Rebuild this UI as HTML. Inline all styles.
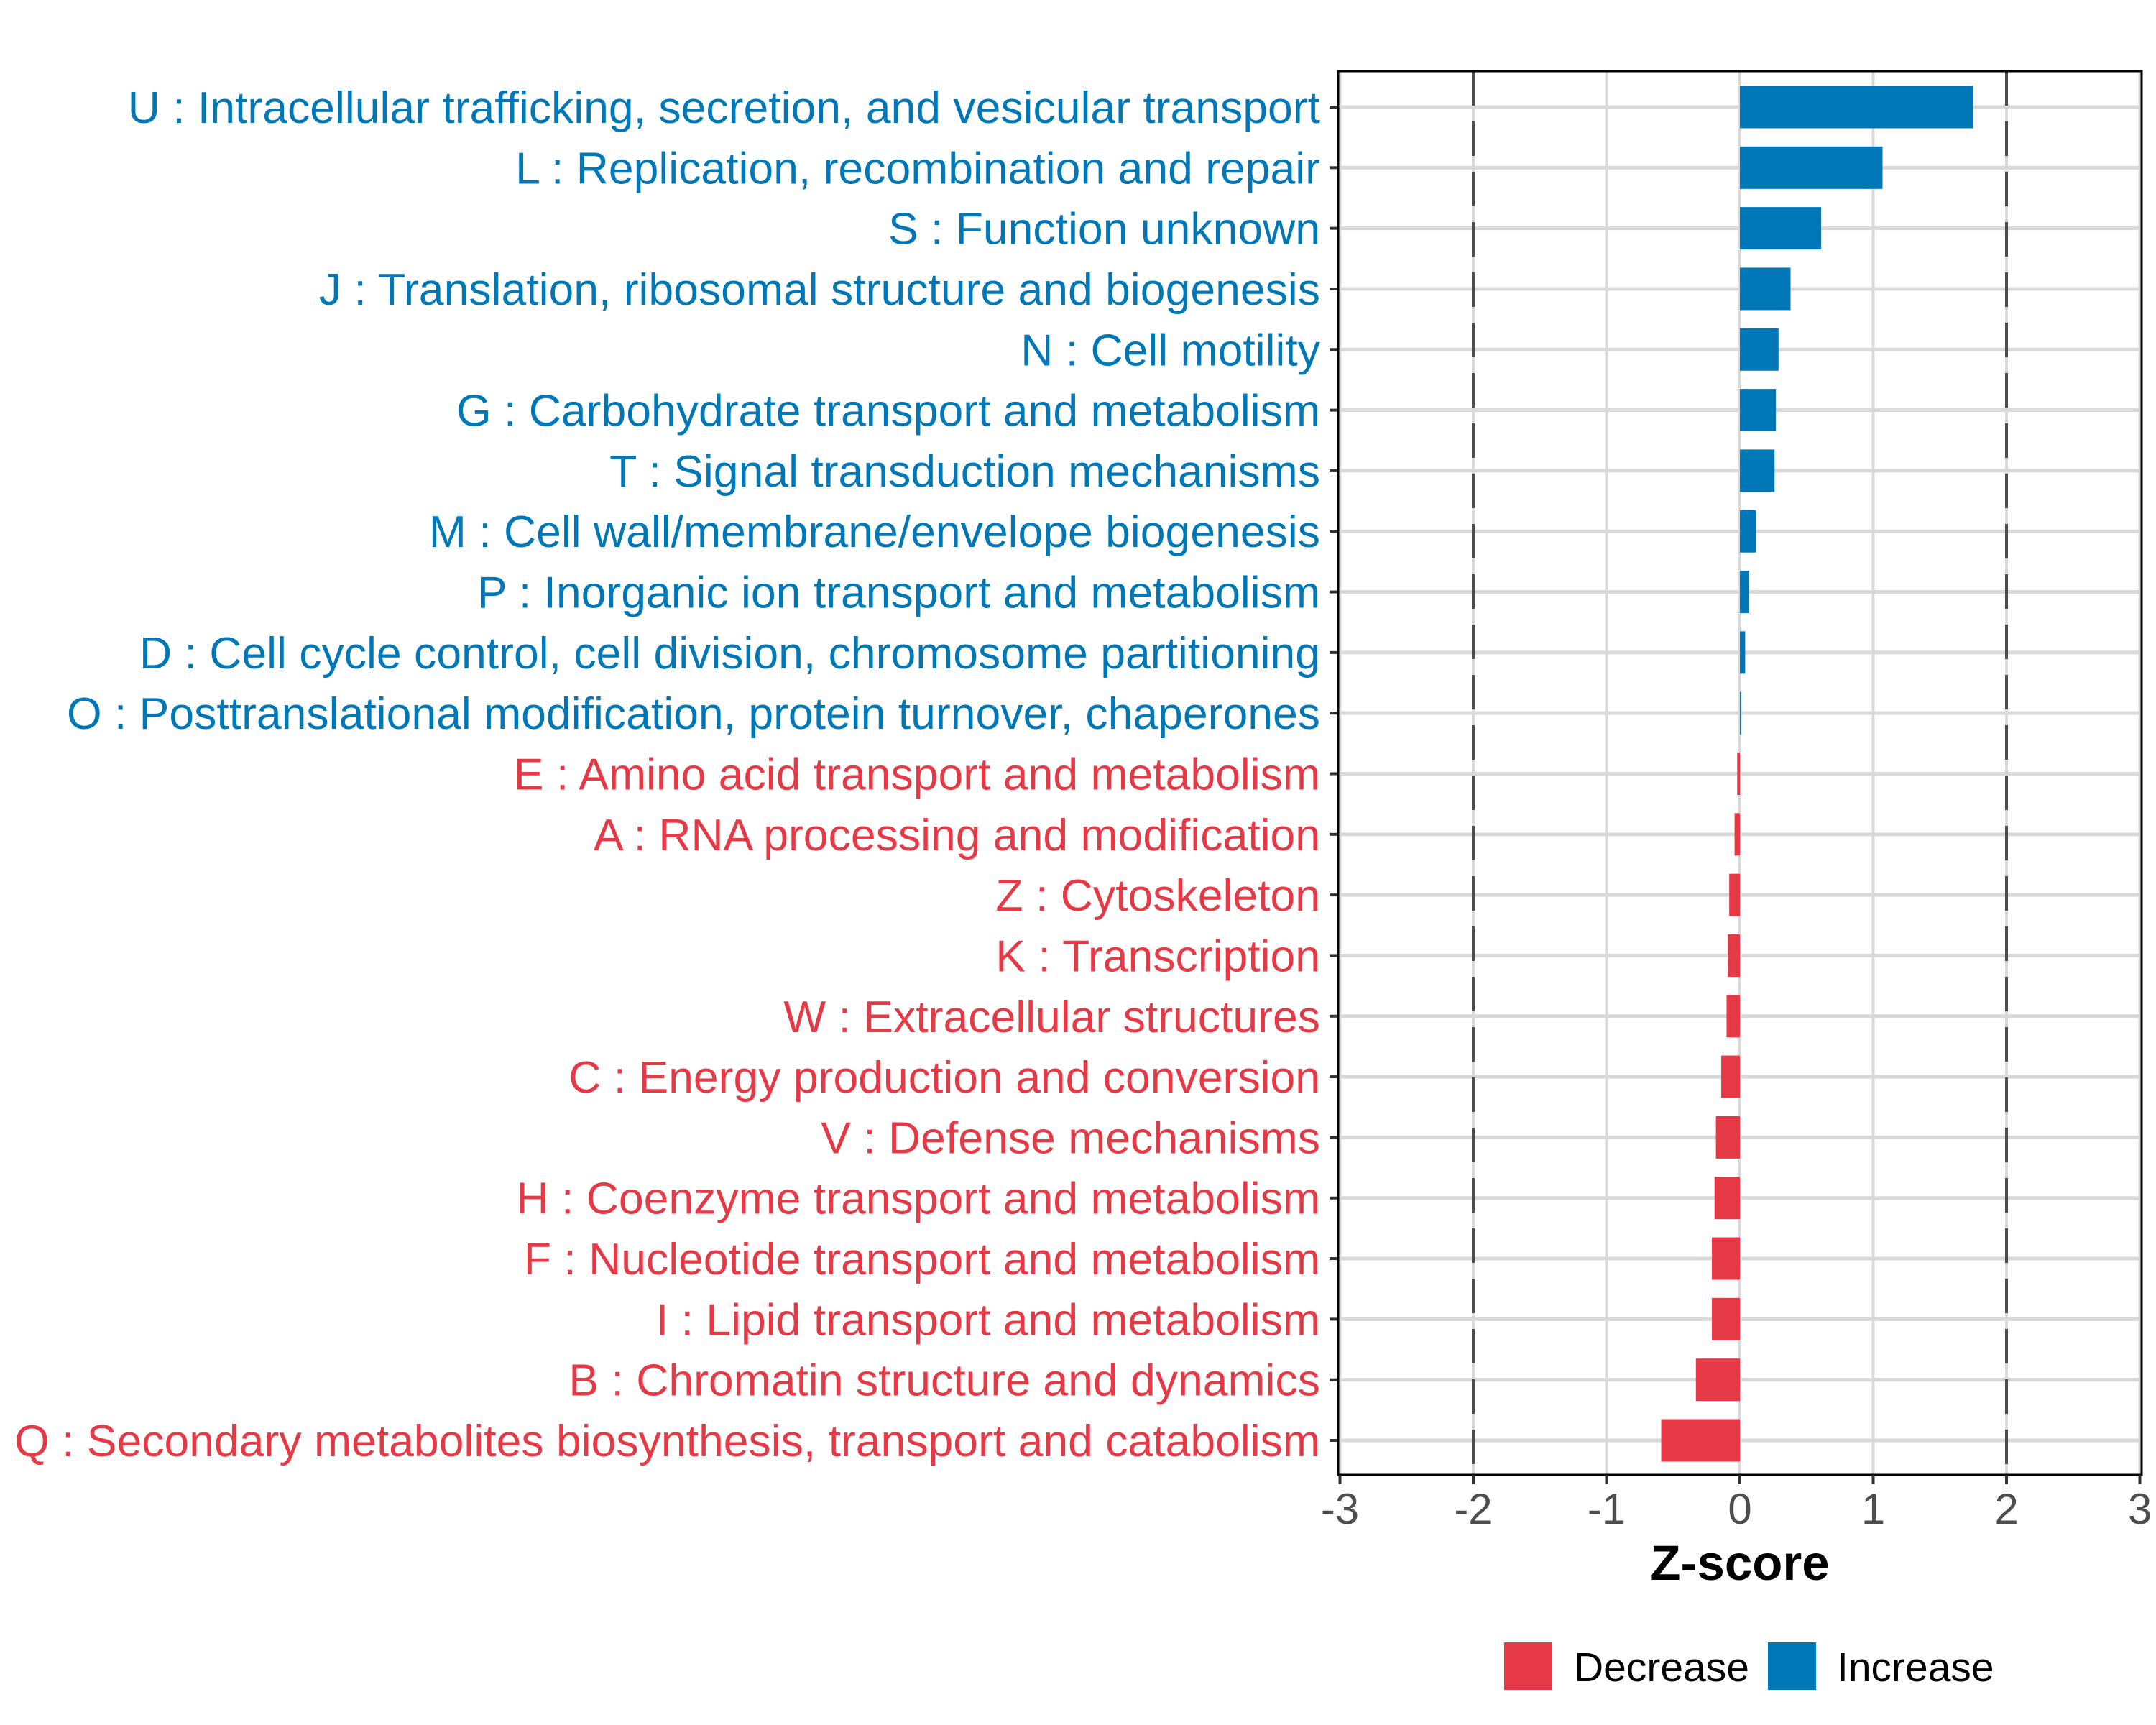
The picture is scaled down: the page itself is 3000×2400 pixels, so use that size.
<!DOCTYPE html>
<html><head><meta charset="utf-8"><style>body{margin:0;background:#fff}svg{display:block}</style></head>
<body>
<svg id="chart" width="3000" height="2400" viewBox="0 0 3000 2400" xmlns="http://www.w3.org/2000/svg" font-family="'Liberation Sans', sans-serif">
<rect width="3000" height="2400" fill="#fff"/>
<g id="grid"></g><g id="bars"></g><g id="axes"></g>
</svg>
<script>
const categories = ["U : Intracellular trafficking, secretion, and vesicular transport","L : Replication, recombination and repair","S : Function unknown","J : Translation, ribosomal structure and biogenesis","N : Cell motility","G : Carbohydrate transport and metabolism","T : Signal transduction mechanisms","M : Cell wall/membrane/envelope biogenesis","P : Inorganic ion transport and metabolism","D : Cell cycle control, cell division, chromosome partitioning","O : Posttranslational modification, protein turnover, chaperones","E : Amino acid transport and metabolism","A : RNA processing and modification","Z : Cytoskeleton","K : Transcription","W : Extracellular structures","C : Energy production and conversion","V : Defense mechanisms","H : Coenzyme transport and metabolism","F : Nucleotide transport and metabolism","I : Lipid transport and metabolism","B : Chromatin structure and dynamics","Q : Secondary metabolites biosynthesis, transport and catabolism"];
const zscores = [1.75,1.07,0.61,0.38,0.29,0.27,0.26,0.12,0.07,0.04,0.01,-0.02,-0.04,-0.08,-0.09,-0.10,-0.14,-0.18,-0.19,-0.21,-0.21,-0.33,-0.59];
const xTicks = [-3,-2,-1,0,1,2,3];
const thresholds = [-2,2];

const NS="http://www.w3.org/2000/svg";
const L=1862,R=2980,T=99,B=2052;
const x=v=>2421+v*185.5;
const y=i=>149+i*((2004-149)/(categories.length-1));
const BLUE="#0078b8",RED="#e63946";
function mk(p,tag,a){const e=document.createElementNS(NS,tag);for(const k in a)e.setAttribute(k,a[k]);p.appendChild(e);return e;}
const grid=document.getElementById('grid'),bars=document.getElementById('bars'),axes=document.getElementById('axes');

xTicks.forEach(t=>{const l=mk(grid,'line',{x1:x(t),x2:x(t),y1:T,y2:B,stroke:'#d9d9d9','stroke-width':4});

});
categories.forEach((c,i)=>{const l=mk(grid,'line',{x1:L,x2:R,y1:y(i),y2:y(i),stroke:'#d9d9d9','stroke-width':5});

});
thresholds.forEach(t=>{const l=mk(grid,'line',{x1:x(t),x2:x(t),y1:T,y2:B,stroke:'#4d4d4d','stroke-width':4,'stroke-dasharray':'48 22'});

});

categories.forEach((c,i)=>{const v=zscores[i];const col=v>=0?BLUE:RED;
const r=mk(bars,'rect',{x:Math.min(x(0),x(v)),y:y(i)-29.5,width:Math.max(1,Math.abs(x(v)-x(0))),height:59,fill:col});


const t=mk(axes,'text',{x:1837,y:y(i)+22,'text-anchor':'end','font-size':62.5,fill:col});t.textContent=c;


const tk=mk(axes,'line',{x1:1850,x2:L,y1:y(i),y2:y(i),stroke:'#333','stroke-width':4});

});

const fr=mk(axes,'rect',{x:L,y:T,width:R-L,height:B-T,fill:'none',stroke:'#000','stroke-width':3});


xTicks.forEach(t=>{const tk=mk(axes,'line',{x1:x(t),x2:x(t),y1:B,y2:B+13,stroke:'#333','stroke-width':4});


const tl=mk(axes,'text',{x:x(t),y:2120,'text-anchor':'middle','font-size':60,fill:'#4d4d4d'});tl.textContent=t;

});
const xt=mk(axes,'text',{x:2421,y:2198,'text-anchor':'middle','font-size':69,'font-weight':'bold',fill:'#000'});xt.textContent='Z-score';



[[2093,RED,'Decrease',2190],[2460,BLUE,'Increase',2556]].forEach(([kx,col,lab,tx])=>{
const k=mk(axes,'rect',{x:kx,y:2285,width:67,height:66,fill:col});


const t=mk(axes,'text',{x:tx,y:2339,'font-size':57,fill:'#000'});t.textContent=lab;

});
</script>
</body></html>
